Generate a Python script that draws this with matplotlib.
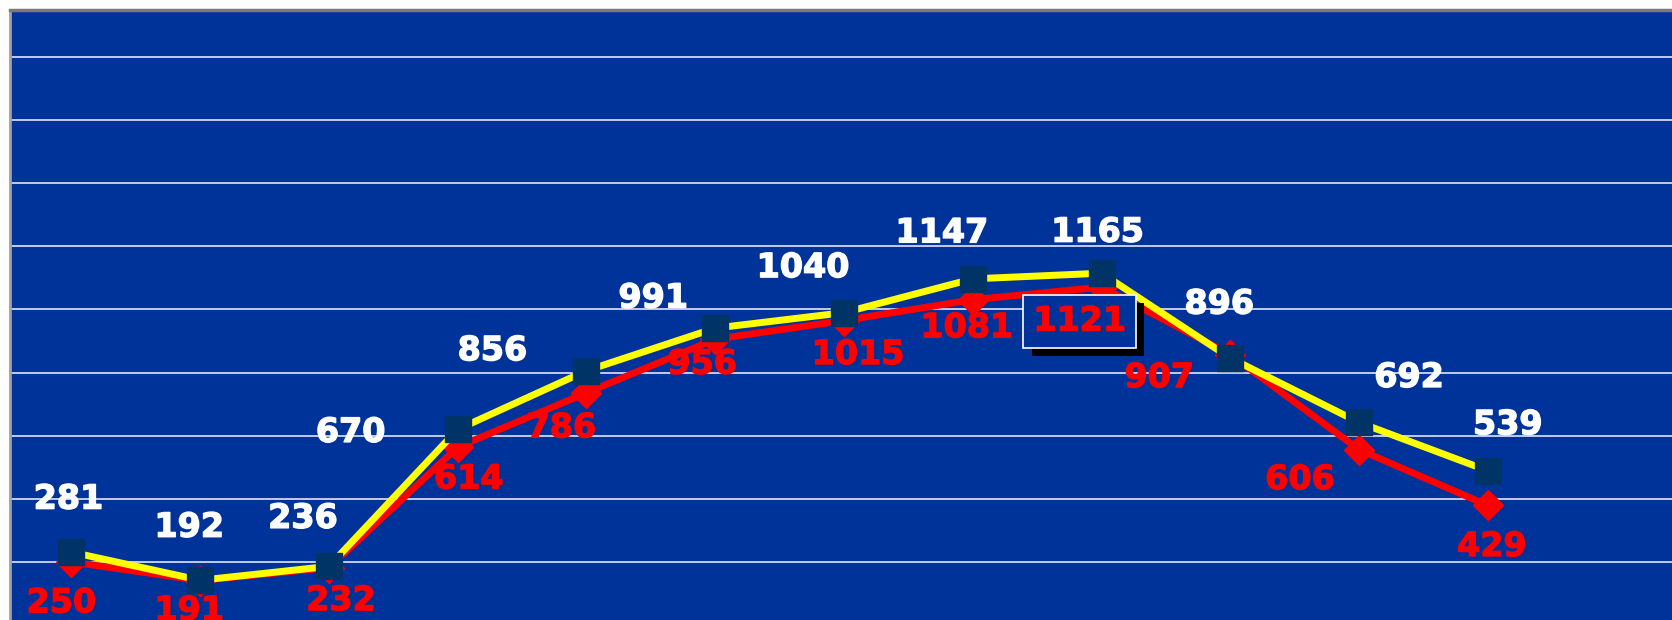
import matplotlib.pyplot as plt
import matplotlib.patheffects as pe

# valeurs
categories = list(range(12))
serie_jaune = [281, 192, 236, 670, 856, 991, 1040, 1147, 1165, 896, 692, 539]
serie_rouge = [250, 191, 232, 614, 786, 956, 1015, 1081, 1121, 907, 606, 429]

# decalage des etiquettes (pixels), places a la main comme dans l'original
decal_jaune = [(-3, 53), (-11, 53), (-26, 48), (-107, -3), (-94, 20), (-62, 30),
               (-41, 45), (-31, 46), (-4, 41), (-11, 54), (50, 45), (20, 46)]
decal_rouge = [(-10, -41), (-11, -30), (12, -33), (11, -32), (-25, -35), (-13, -25),
               (14, -34), (-6, -28), (-22, -34), (-71, -23), (-59, -30), (4, -41)]
idx_encadre = 8

fond = '#003399'

fig = plt.figure(figsize=(16.72, 6.2), dpi=100)
fig.patch.set_facecolor('white')
ax = fig.add_axes([10 / 1672, 0, 1 - 10 / 1672, 1 - 10 / 620])
ax.set_facecolor(fond)

ax.set_xlim(-0.477, 12.43)
ax.set_ylim(66, 1999)
ax.set_yticks(range(250, 1851, 200))
ax.set_xticks([])
ax.tick_params(left=False, labelleft=False)
ax.grid(axis='y', color='#d0d8f0', linewidth=1.3)
ax.set_axisbelow(True)
for s in ['right', 'bottom']:
    ax.spines[s].set_visible(False)
ax.spines['top'].set_color('#7a7a7a')
ax.spines['top'].set_linewidth(2.5)
ax.spines['left'].set_color('#a0a0a0')
ax.spines['left'].set_linewidth(2)

ax.plot(categories, serie_rouge, color='#ff0000', linewidth=5, marker='D',
        markersize=15, markerfacecolor='#ff0000', markeredgecolor='#ff0000', zorder=3)
ax.plot(categories, serie_jaune, color='#ffff00', linewidth=5, marker='s',
        markersize=19, markerfacecolor='#003366', markeredgecolor='#003366', zorder=4)

police = dict(fontsize=24, fontweight='bold', family='DejaVu Sans',
              ha='center', va='center')

for x, v, d in zip(categories, serie_jaune, decal_jaune):
    ax.annotate(str(v), (x, v), xytext=d, textcoords='offset pixels',
                color='white', zorder=6, annotation_clip=False,
                path_effects=[pe.withStroke(linewidth=1, foreground='white')], **police)

for i, (x, v, d) in enumerate(zip(categories, serie_rouge, decal_rouge)):
    t = ax.annotate(str(v), (x, v), xytext=d, textcoords='offset pixels',
                    color='#ff0000', zorder=6, annotation_clip=False,
                    path_effects=[pe.withStroke(linewidth=1, foreground='#ff0000')], **police)
    if i == idx_encadre:
        # cadre blanc avec ombre noire
        t.set_bbox(dict(boxstyle='square,pad=0.3', fc=fond, ec='white', lw=1.2))
        t.get_bbox_patch().set_path_effects(
            [pe.SimplePatchShadow(offset=(6, -6), shadow_rgbFace='black', alpha=1),
             pe.Normal()])

fig.savefig('out.png', dpi=100, facecolor=fig.get_facecolor())
